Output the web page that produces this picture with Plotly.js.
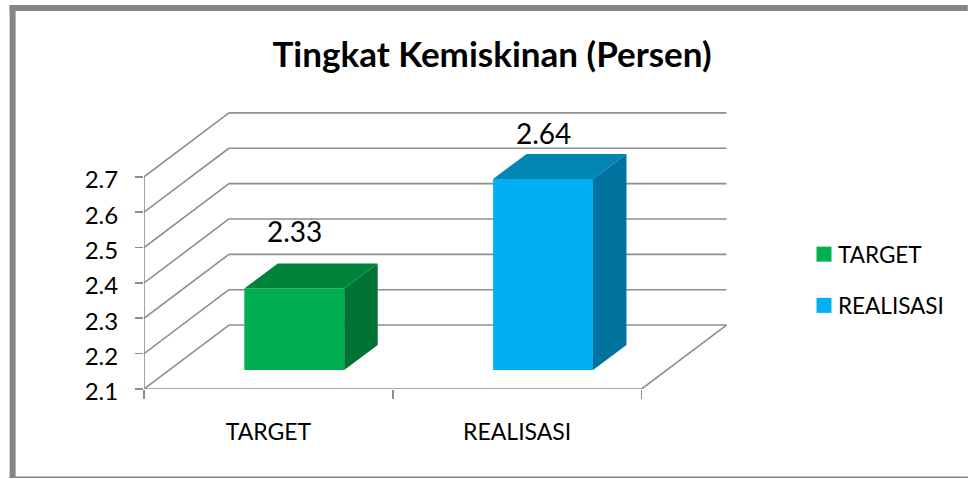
<!DOCTYPE html>
<html>
<head>
<meta charset="utf-8">
<script src="https://cdn.plot.ly/plotly-3.0.1.min.js"></script>
<style>html,body{margin:0;padding:0;background:#fff}#chart{width:968px;height:479px}</style>
</head>
<body>
<div id="chart"></div>
<script>
// Data
const categories = ['TARGET', 'REALISASI'];
const values = [2.33, 2.64];
const valueLabels = ['2.33', '2.64'];
const yTicks = [2.1, 2.2, 2.3, 2.4, 2.5, 2.6, 2.7];
const yTickLabels = ['2.1', '2.2', '2.3', '2.4', '2.5', '2.6', '2.7'];

// Styles
const frontColors = ['#00B050', '#00B0F0'];
const sideColors = ['#007234', '#00739F'];
const topColors = ['#00843C', '#0085B5'];
const gridColor = '#8E8E8E';
const frameColor = '#868686';
const font = 'Lato, "Open Sans", sans-serif';

// Oblique projection used by the 3D look, expressed in axis units
const W = 968, H = 479;
const m = {l: 143.5, r: 238, t: 110, b: 89.7};
const pxX = 249, pxY = 354;
const wallDX = 85 / pxX, wallDY = 64 / pxY;
const barW = 100 / pxX, barDX = 33.5 / pxX, barDY = 25 / pxY;
const barShiftX = 0.104, barShiftY = 0.054;
const xMax = (W - m.l - m.r) / pxX;
const yMin = yTicks[0];
const yMax = yMin + (H - m.b - m.t) / pxY;
const nCat = categories.length;
const px2x = p => (p - m.l) / (W - m.l - m.r);
const py2y = p => 1 - (p - m.t) / (H - m.t - m.b);

const traces = [];
// Front faces: real bars
categories.forEach((c, i) => {
  traces.push({
    type: 'bar', name: c, x: [i + 0.5 + barShiftX], y: [values[i] - yMin],
    base: [yMin + barShiftY], width: [barW],
    marker: {color: frontColors[i], line: {width: 0}},
    legendgroup: c, hoverinfo: 'skip', showlegend: true
  });
});
// Side and top faces
categories.forEach((c, i) => {
  const x0 = i + 0.5 + barShiftX - barW / 2, x1 = x0 + barW;
  const yT = values[i] + barShiftY, yB = yMin + barShiftY;
  traces.push({
    type: 'scatter', mode: 'lines', fill: 'toself', fillcolor: sideColors[i],
    line: {width: 0, color: sideColors[i]}, showlegend: false, hoverinfo: 'skip',
    x: [x1, x1 + barDX, x1 + barDX, x1, x1],
    y: [yB, yB + barDY, yT + barDY, yT, yB]
  });
  traces.push({
    type: 'scatter', mode: 'lines', fill: 'toself', fillcolor: topColors[i],
    line: {width: 0, color: topColors[i]}, showlegend: false, hoverinfo: 'skip',
    x: [x0, x0 + barDX, x1 + barDX, x1, x0],
    y: [yT, yT + barDY, yT + barDY, yT, yT]
  });
});
// Front edges of the box (not clipped at the plot edge)
traces.push({
  type: 'scatter', mode: 'lines', cliponaxis: false, showlegend: false, hoverinfo: 'skip',
  line: {color: gridColor, width: 1.6},
  x: [0, 0, nCat, nCat + wallDX],
  y: [yTicks[yTicks.length - 1], yMin, yMin, yMin + wallDY]
});

// Back wall grid and the diagonals on the side wall
const shapes = [];
yTicks.forEach(t => {
  shapes.push({type: 'line', layer: 'below', xref: 'x', yref: 'y',
    x0: 0, y0: t, x1: wallDX, y1: t + wallDY, line: {color: gridColor, width: 1.6}});
  shapes.push({type: 'line', layer: 'below', xref: 'x', yref: 'y',
    x0: wallDX, y0: t + wallDY, x1: nCat + wallDX, y1: t + wallDY, line: {color: gridColor, width: 1.6}});
});
// Outer chart frame
const frameRect = (a, b, c, d) => ({type: 'rect', layer: 'above', xref: 'paper', yref: 'paper',
  x0: px2x(a), x1: px2x(c), y0: py2y(b), y1: py2y(d), fillcolor: frameColor, line: {width: 0}});
shapes.push(frameRect(9, 5, 15, 478.5));
shapes.push(frameRect(9, 5, 968, 11));
shapes.push(frameRect(9, 477, 968, 478.5));

const labelLift = [58, 46];
const annotations = categories.map((c, i) => ({
  x: i + 0.5 + barShiftX, y: values[i] + barShiftY, xref: 'x', yref: 'y',
  text: valueLabels[i], showarrow: false, xanchor: 'center', yanchor: 'middle',
  yshift: labelLift[i], font: {family: font, size: 28, color: '#000'}
}));

const layout = {
  width: W, height: H, margin: m, paper_bgcolor: '#fff', plot_bgcolor: 'rgba(0,0,0,0)',
  barmode: 'overlay', showlegend: true, hovermode: false,
  title: {text: '<b>Tingkat Kemiskinan (Persen)</b>', x: 492 / W, xref: 'container', xanchor: 'center',
    y: 1 - 55 / H, yanchor: 'middle', font: {family: font, size: 35, color: '#000'}},
  xaxis: {
    range: [0, xMax], showgrid: false, zeroline: false, showline: false, fixedrange: true,
    tickmode: 'array', tickvals: categories.map((c, i) => i + 0.5), ticktext: categories,
    ticks: '', ticklabelstandoff: 27, tickfont: {family: font, size: 23, color: '#000'},
    minor: {tickmode: 'array', tickvals: categories.map((c, i) => i).concat([nCat]),
      ticks: 'outside', ticklen: 9, tickwidth: 1.6, tickcolor: gridColor, showgrid: false}
  },
  yaxis: {
    range: [yMin, yMax], showgrid: false, zeroline: false, showline: false, fixedrange: true,
    tickmode: 'array', tickvals: yTicks, ticktext: yTickLabels,
    ticks: 'outside', ticklen: 8, tickwidth: 1.6, tickcolor: gridColor, ticklabelstandoff: 12,
    ticklabelshift: 3,
    tickfont: {family: font, size: 24, color: '#000'}
  },
  legend: {xref: 'container', yref: 'container', x: 804 / W, y: 1 - 233 / H, xanchor: 'left', yanchor: 'top',
    font: {family: font, size: 22.5, color: '#000'}, tracegroupgap: 19, bgcolor: 'rgba(0,0,0,0)', traceorder: 'grouped'},
  shapes, annotations
};
Plotly.newPlot('chart', traces, layout, {displayModeBar: false, staticPlot: true}).then(() => {
  // Larger legend swatches, closer to their text, as in the reference
  document.querySelectorAll('#chart .legend .legendtext').forEach(t => {
    t.setAttribute('x', parseFloat(t.getAttribute('x')) - 6);
  });
  document.querySelectorAll('#chart .legend .legendsymbols path').forEach(p => {
    p.setAttribute('transform', ((p.getAttribute('transform') || '') + ' scale(1.25)').trim());
  });
});
</script>
</body>
</html>
